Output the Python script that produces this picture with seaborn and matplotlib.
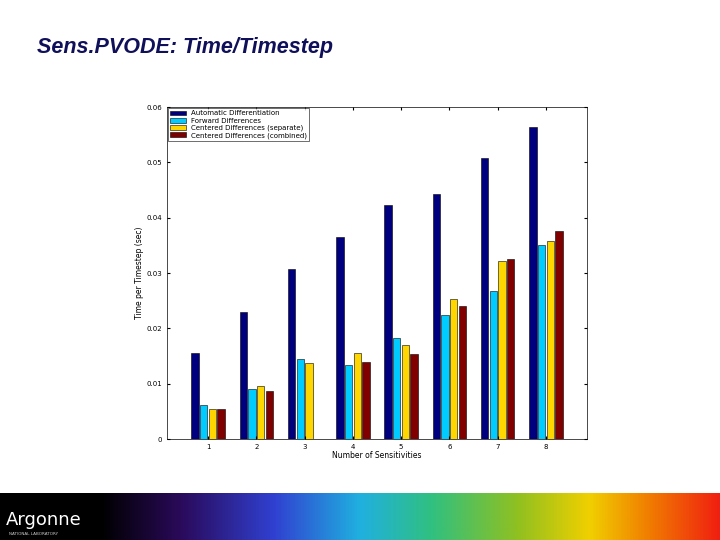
import numpy as np
import pandas as pd
import matplotlib
matplotlib.use("Agg")
import matplotlib.pyplot as plt
from matplotlib.colors import LinearSegmentedColormap
import seaborn as sns

categories = ["1", "2", "3", "4", "5", "6", "7", "8"]
series_names = ["Automatic Differentiation", "Forward Differences",
                "Centered Differences (separate)", "Centered Differences (combined)"]
ad = [0.0156, 0.0229, 0.0307, 0.0365, 0.0422, 0.0442, 0.0507, 0.0563]
fd = [0.0062, 0.0090, 0.0144, 0.0133, 0.0182, 0.0225, 0.0267, 0.0350]
cd_sep = [0.0055, 0.0096, 0.0138, 0.0155, 0.0169, 0.0253, 0.0322, 0.0358]
cd_comb = [0.0054, 0.0087, 0.0, 0.0139, 0.0153, 0.0240, 0.0325, 0.0375]
yticks = [0, 0.01, 0.02, 0.03, 0.04, 0.05, 0.06]
ytick_labels = ["0", "0.01", "0.02", "0.03", "0.04", "0.05", "0.06"]

rows = []
for name, vals in zip(series_names, [ad, fd, cd_sep, cd_comb]):
    for c, v in zip(categories, vals):
        rows.append({"n": c, "series": name, "t": v})
df = pd.DataFrame(rows)

colors = ["#00007F", "#00CCFF", "#FFD700", "#800000"]

fig = plt.figure(figsize=(7.2, 5.4), dpi=100)
fig.patch.set_facecolor("white")
fig.text(37/720, 1 - 48/540, "Sens.PVODE: Time/Timestep", fontsize=15.5,
         fontstyle="italic", fontweight="bold", color="#10105a", va="center",
         family="Liberation Sans")

ax = fig.add_axes([167/720, 101/540, 420/720, 332/540])
sns.barplot(data=df, x="n", y="t", hue="series", palette=colors, ax=ax,
            width=0.72, edgecolor="black", linewidth=0.4, saturation=1, gap=0.15)
ax.set_ylim(0, 0.06)
ax.set_xlim(-0.85, 7.85)
ax.set_yticks(yticks)
ax.set_yticklabels(ytick_labels)
ax.tick_params(labelsize=5, length=2, direction="in", top=True, right=True)
ax.set_xlabel("Number of Sensitivities", fontsize=5.5, labelpad=1)
ax.set_ylabel("Time per Timestep (sec)", fontsize=5.5, labelpad=2)
for s in ax.spines.values():
    s.set_linewidth(0.5)
leg = ax.legend(loc="upper left", fontsize=5, frameon=True, fancybox=False,
                borderaxespad=0.2, handlelength=2.2, labelspacing=0.15,
                borderpad=0.3)
leg.get_frame().set_edgecolor("black")
leg.get_frame().set_linewidth(0.5)

# bottom banner
bax = fig.add_axes([0, 0, 1, 47/540])
cmap = LinearSegmentedColormap.from_list("band", [
    (0.0, "#000000"), (0.14, "#000000"), (0.25, "#2a0a5a"), (0.38, "#3040d0"),
    (0.5, "#20b0e0"), (0.6, "#30c080"), (0.72, "#90c020"), (0.82, "#f0d000"),
    (0.9, "#f08000"), (1.0, "#f02010")])
bax.imshow(np.linspace(0, 1, 512)[None, :], aspect="auto", cmap=cmap,
           extent=[0, 1, 0, 1])
bax.set_axis_off()
bax.text(0.008, 0.42, "Argonne", color="white", fontsize=13, va="center",
         family="DejaVu Sans")
bax.text(0.012, 0.12, "NATIONAL LABORATORY", color="#cccccc", fontsize=3,
         va="center")

fig.savefig("out.png", dpi=100)
